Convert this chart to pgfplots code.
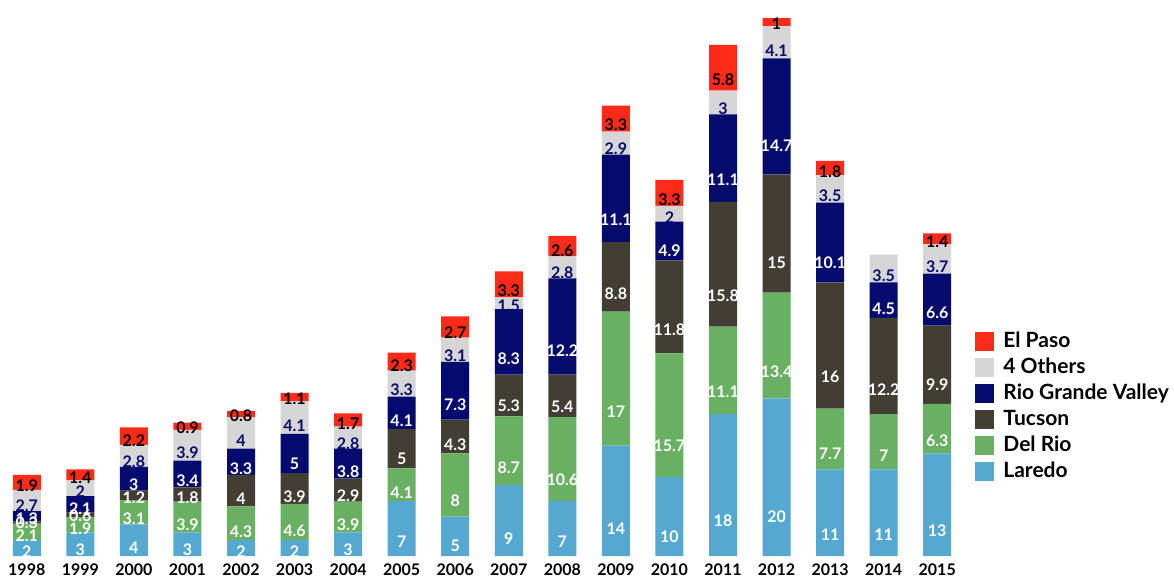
\documentclass[border=0pt]{standalone}
\usepackage{pgfplots}
\pgfplotsset{compat=1.18}
\usepackage{pgfplotstable}
\usepackage{fontspec}
\setmainfont{Lato}

\definecolor{elpaso}{HTML}{FF2A17}
\definecolor{others}{HTML}{D6D6D6}
\definecolor{rgv}{HTML}{050A6E}
\definecolor{tucson}{HTML}{423E33}
\definecolor{delrio}{HTML}{69B062}
\definecolor{laredo}{HTML}{55A8D0}

% apprehensions by sector, bottom to top of each stack
\pgfplotstableread{
year laredo delrio tucson rgv others elpaso
1998 2  2.1  0.3  1.3  2.7 1.9
1999 3  1.9  0.6  2.1  2   1.4
2000 4  3.1  1.2  3    2.8 2.2
2001 3  3.9  1.8  3.4  3.9 0.9
2002 2  4.3  4    3.3  4   0.8
2003 2  4.6  3.9  5    4.1 1.1
2004 3  3.9  2.9  3.8  2.8 1.7
2005 7  4.1  5    4.1  3.3 2.3
2006 5  8    4.3  7.3  3.1 2.7
2007 9  8.7  5.3  8.3  1.5 3.3
2008 7  10.6 5.4  12.2 2.8 2.6
2009 14 17   8.8  11.1 2.9 3.3
2010 10 15.7 11.8 4.9  2   3.3
2011 18 11.1 15.8 11.1 3   5.8
2012 20 13.4 15   14.7 4.1 1
2013 11 7.7  16   10.1 3.5 1.8
2014 11 7    12.2 4.5  3.5 0
2015 13 6.3  9.9  6.6  3.7 1.4
}\sectors

% value label centred in its own segment (the shift gets applied twice)
\pgfplotsset{
  mid label/.style={
    nodes near coords={\pgfmathfloatifflags{\pgfplotspointmeta}{0}{}{\pgfmathprintnumber{\pgfplotspointmeta}}},
    every node near coord/.append style={
      anchor=center, inner sep=0pt,
      font=\fontsize{8}{9}\selectfont\bfseries, text=#1,
      /utils/exec={\pgfkeys{/pgf/fpu=true,/pgf/fpu/output format=fixed}%
        \pgfmathsetmacro\halfseg{\pgfplotspointmeta*0.9858}%
        \pgfkeys{/pgf/fpu=false}},
      yshift=-\halfseg pt}
  }
}

\begin{document}
\begin{tikzpicture}
\useasboundingbox (0,-11.5pt) rectangle (587pt,278pt);
\begin{axis}[
  ybar stacked,
  bar width=14pt,
  scale only axis,
  width=482pt, height=278pt,
  xmin=1997.5, xmax=2015.5,
  ymin=0, ymax=70.5,
  /pgf/number format/assume math mode=true,
  xtick={1998,1999,2000,2001,2002,2003,2004,2005,2006,2007,2008,2009,2010,2011,2012,2013,2014,2015},
  xticklabels={1998,1999,2000,2001,2002,2003,2004,2005,2006,2007,2008,2009,2010,2011,2012,2013,2014,2015},
  xticklabel style={font=\fontsize{8}{9}\selectfont\bfseries, yshift=-0.5pt},
  ytick=\empty,
  axis line style={draw=none},
  tick style={draw=none},
  reverse legend,
  legend cell align=left,
  legend style={at={(1,0.127)}, anchor=south west, xshift=5.5pt,
    draw=none, fill=none, inner sep=0pt, row sep=-0.2pt,
    font=\fontsize{10.5}{11}\selectfont\bfseries},
  legend image code/.code={\fill[#1] (0pt,-4.75pt) rectangle (9.5pt,4.75pt); \path (12pt,0pt);},
]
\addplot[fill=laredo, draw=none, mid label=white] table[x=year, y=laredo] {\sectors};
\addplot[fill=delrio, draw=none, mid label=white] table[x=year, y=delrio] {\sectors};
\addplot[fill=tucson, draw=none, mid label=white] table[x=year, y=tucson] {\sectors};
\addplot[fill=rgv, draw=none, mid label=white] table[x=year, y=rgv] {\sectors};
\addplot[fill=others, draw=none, mid label=rgv] table[x=year, y=others] {\sectors};
\addplot[fill=elpaso, draw=none, mid label=black] table[x=year, y=elpaso] {\sectors};
\legend{Laredo, Del Rio, Tucson, Rio Grande Valley, 4 Others, El Paso}
\end{axis}
\end{tikzpicture}
\end{document}
